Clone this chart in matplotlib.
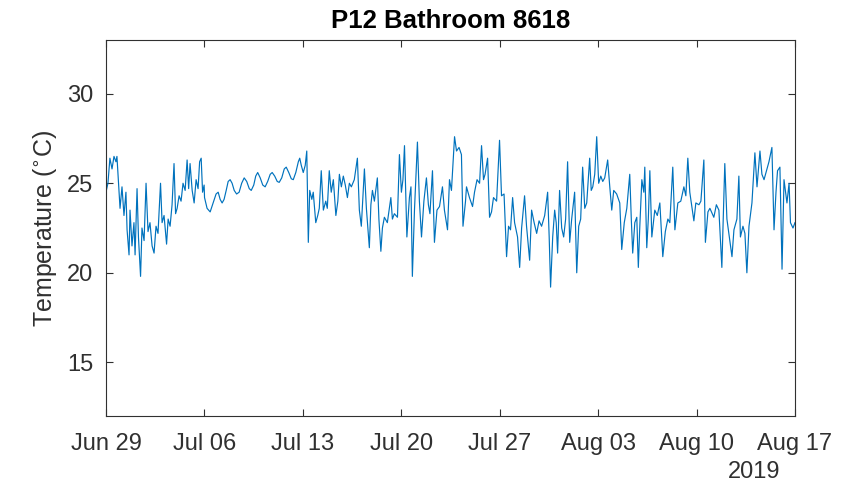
import matplotlib
matplotlib.use("Agg")
import matplotlib.pyplot as plt
import numpy as np

# ---- data (days since Jun 29 2019 00:00, temperature in deg C) ----
days = [
    0.00, 0.14, 0.28, 0.43, 0.57, 0.71, 0.78, 0.89, 1.00, 1.14, 1.28, 1.42, 1.50, 1.64, 1.71, 1.85,
    1.99, 2.07, 2.21, 2.31, 2.46, 2.56, 2.71, 2.85, 2.99, 3.13, 3.28, 3.42, 3.56, 3.70, 3.88, 3.99,
    4.13, 4.31, 4.42, 4.56, 4.70, 4.84, 4.95, 5.06, 5.20, 5.34, 5.48, 5.63, 5.77, 5.88, 5.98, 6.13,
    6.27, 6.41, 6.55, 6.66, 6.77, 6.87, 6.98,
    7.01, 7.19, 7.41, 7.62, 7.83, 7.98, 8.12, 8.26, 8.40, 8.55, 8.69, 8.83, 8.97, 9.12, 9.29, 9.47,
    9.65, 9.83, 10.01, 10.19, 10.33, 10.51, 10.65, 10.79, 10.97, 11.15, 11.32, 11.50, 11.68, 11.82,
    12.00, 12.18, 12.32, 12.50, 12.68, 12.82, 13.00, 13.18, 13.32, 13.50, 13.68, 13.78, 13.89,
    14.03, 14.17, 14.28, 14.39, 14.49, 14.64, 14.74, 14.92, 15.06, 15.17, 15.31, 15.46, 15.63, 15.74,
    15.88, 16.02, 16.17, 16.35, 16.49, 16.60, 16.74, 16.88, 17.02, 17.17, 17.31, 17.45, 17.66, 17.88,
    18.02, 18.16, 18.38, 18.52, 18.73, 18.84, 18.95, 19.09, 19.30, 19.41, 19.55, 19.66, 19.80, 20.01,
    20.26, 20.37, 20.51, 20.73, 20.87, 21.01, 21.12, 21.23, 21.40, 21.58, 21.69, 21.79, 21.94, 22.15,
    22.29, 22.44, 22.61, 22.79, 22.93, 23.04, 23.22, 23.36, 23.54, 23.72, 23.93, 24.07, 24.29, 24.43,
    24.57, 24.79, 24.93, 25.11, 25.28, 25.39, 25.57, 25.64, 25.85, 26.07, 26.21, 26.39, 26.57, 26.71,
    26.85, 26.96, 27.14, 27.28, 27.42, 27.56, 27.78, 27.99, 28.13, 28.31, 28.49, 28.63, 28.77, 28.92,
    29.06, 29.27, 29.42, 29.56, 29.77, 29.91, 30.13, 30.27, 30.45, 30.63, 30.80, 30.98, 31.20, 31.41,
    31.52, 31.62, 31.77, 31.91, 32.02, 32.12, 32.26, 32.41, 32.55, 32.69, 32.83, 32.98, 33.12, 33.33,
    33.48, 33.62, 33.76, 33.90, 34.05, 34.19, 34.40, 34.51, 34.62, 34.76, 34.90, 35.04, 35.19, 35.33,
    35.47, 35.68, 35.83, 35.97, 36.11, 36.32, 36.54, 36.68, 36.86, 37.04, 37.25, 37.36, 37.46, 37.61,
    37.75, 37.86, 37.96, 38.11, 38.25, 38.32, 38.46, 38.57, 38.68, 38.82, 39.03, 39.21, 39.39, 39.60,
    39.78, 39.96, 40.10, 40.31, 40.46, 40.67, 40.88, 41.10, 41.24, 41.38, 41.52, 41.81, 41.95, 42.17,
    42.31, 42.52, 42.63, 42.81, 42.95, 43.23, 43.41, 43.59, 43.80, 44.01, 44.16, 44.30, 44.52, 44.66,
    44.87, 45.01, 45.12, 45.30, 45.44, 45.58, 45.73, 45.94, 46.15, 46.30, 46.51, 46.65, 46.80, 47.01,
    47.15, 47.36, 47.51, 47.65, 47.76, 47.93, 48.08, 48.22, 48.43, 48.58, 48.68, 48.86, 49.00,
]
temps = [
    24.5, 25.0, 26.4, 25.8, 26.5, 26.2, 26.5, 25.0, 23.6, 24.8, 23.2, 24.5, 22.4, 21.0, 23.5, 21.5,
    22.8, 21.0, 24.7, 22.0, 19.8, 22.5, 21.8, 25.0, 22.3, 22.8, 21.5, 21.1, 22.6, 22.2, 25.0, 22.8,
    23.2, 21.6, 23.0, 22.6, 23.8, 26.1, 23.3, 23.6, 24.3, 24.0, 25.0, 24.6, 26.3, 24.7, 26.1, 24.6,
    23.9, 25.2, 24.7, 26.2, 26.4, 24.5, 24.9,
    24.2, 23.6, 23.4, 23.9, 24.4, 24.5, 24.1, 23.9, 24.1, 24.6, 25.1, 25.2, 25.0, 24.6, 24.4, 24.5,
    25.0, 25.3, 25.1, 24.7, 24.6, 24.9, 25.4, 25.6, 25.3, 24.9, 24.8, 25.1, 25.5, 25.6,
    25.4, 25.1, 25.05, 25.3, 25.8, 25.9, 25.6, 25.25, 25.2, 25.6, 26.2, 26.4, 26.0,
    25.6, 26.0, 26.8, 21.7, 24.6, 24.1, 24.5, 22.8, 23.2, 23.6, 25.7, 23.5, 24.0, 23.6,
    25.7, 24.5, 25.2, 23.2, 24.0, 25.5, 24.8, 25.4, 24.9, 24.2, 25.0, 24.8, 25.2, 26.4,
    23.5, 22.6, 25.8, 23.6, 21.4, 23.8, 24.6, 24.0, 25.3, 23.0, 21.2, 22.5, 23.1, 22.8,
    24.2, 23.0, 23.3, 23.1, 26.6, 24.5, 25.2, 27.1, 22.0, 24.2, 24.8, 19.8, 23.5, 27.3,
    24.0, 22.0, 24.0, 25.3, 23.8, 23.3, 25.7, 21.7, 23.5, 23.7, 24.8, 23.5, 22.4, 25.2,
    24.6, 27.6, 26.8, 27.0, 26.6, 22.6, 24.0, 24.8, 24.2, 23.7, 24.5, 25.2, 25.0, 27.1,
    25.2, 25.5, 26.4, 23.1, 23.4, 24.2, 24.0, 27.4, 24.3, 24.4, 20.9, 22.6, 22.4, 24.2,
    22.8, 22.0, 20.3, 22.5, 24.3, 22.6, 20.7, 23.5, 22.8, 22.2, 22.9, 22.6, 23.2, 24.5,
    22.0, 19.2, 22.0, 23.5, 22.8, 21.1, 24.6, 22.5, 22.0, 23.0, 26.2, 21.7, 23.0, 24.5,
    20.0, 22.6, 23.0, 25.9, 23.6, 23.9, 26.4, 24.6, 24.8, 25.5, 27.6, 25.0, 25.4, 25.1,
    25.3, 26.3, 24.8, 23.5, 24.6, 24.4, 23.9, 21.3, 22.8, 23.6, 25.5, 23.0, 21.1, 22.8,
    23.1, 20.3, 22.5, 25.2, 24.5, 25.9, 21.4, 23.0, 25.7, 22.0, 23.5, 23.2, 23.9, 20.9,
    22.3, 23.0, 22.8, 25.9, 22.4, 23.9, 24.0, 24.8, 24.3, 26.4, 24.5, 22.9, 23.9, 23.8,
    24.0, 26.3, 21.7, 23.4, 23.6, 23.1, 23.8, 23.5, 20.3, 26.1, 23.0, 22.2, 20.9, 22.4,
    23.0, 25.4, 22.0, 22.6, 22.2, 20.0, 22.6, 23.9, 26.7, 24.8, 26.8, 25.5, 25.2, 25.8,
    26.2, 27.0, 22.4, 24.5, 25.7, 25.9, 20.2, 25.2, 23.9, 25.0, 22.8, 22.5, 22.8,
]
tick_days = [0, 7, 14, 21, 28, 35, 42, 49]
tick_labels = ["Jun 29", "Jul 06", "Jul 13", "Jul 20", "Jul 27", "Aug 03", "Aug 10", "Aug 17"]
y_ticks = [15, 20, 25, 30]
title = "P12 Bathroom 8618"
year_label = "2019"

plt.rcParams['font.family'] = ['Liberation Sans', 'DejaVu Sans']
ax_col = '#303030'

fig = plt.figure(figsize=(8.56, 4.91), dpi=100)
ax = fig.add_axes([0.1238, 0.1527, 0.8049, 0.7658])
ax.plot(days, temps, color='#0072BD', linewidth=0.85)

ax.set_xlim(0, 49)
ax.set_ylim(12, 33)
ax.set_xticks(tick_days)
ax.set_xticklabels(tick_labels)
ax.set_yticks(y_ticks)
ax.tick_params(direction='in', length=5, width=0.8, colors=ax_col, labelsize=17,
               top=True, right=True, pad=9)
ax.tick_params(axis='x', pad=12)
for s in ax.spines.values():
    s.set_color(ax_col)
    s.set_linewidth(0.8)
ax.set_ylabel(r'Temperature ($^{\circ}$C)', fontsize=18, color=ax_col, labelpad=6)
ax.set_title(title, fontsize=18.5, fontweight='bold', color='black', pad=9)
ax.text(0.9405, -0.15, year_label, transform=ax.transAxes, ha='center', va='center',
        fontsize=17, color=ax_col)

fig.savefig('out.png', dpi=100, facecolor='white')
